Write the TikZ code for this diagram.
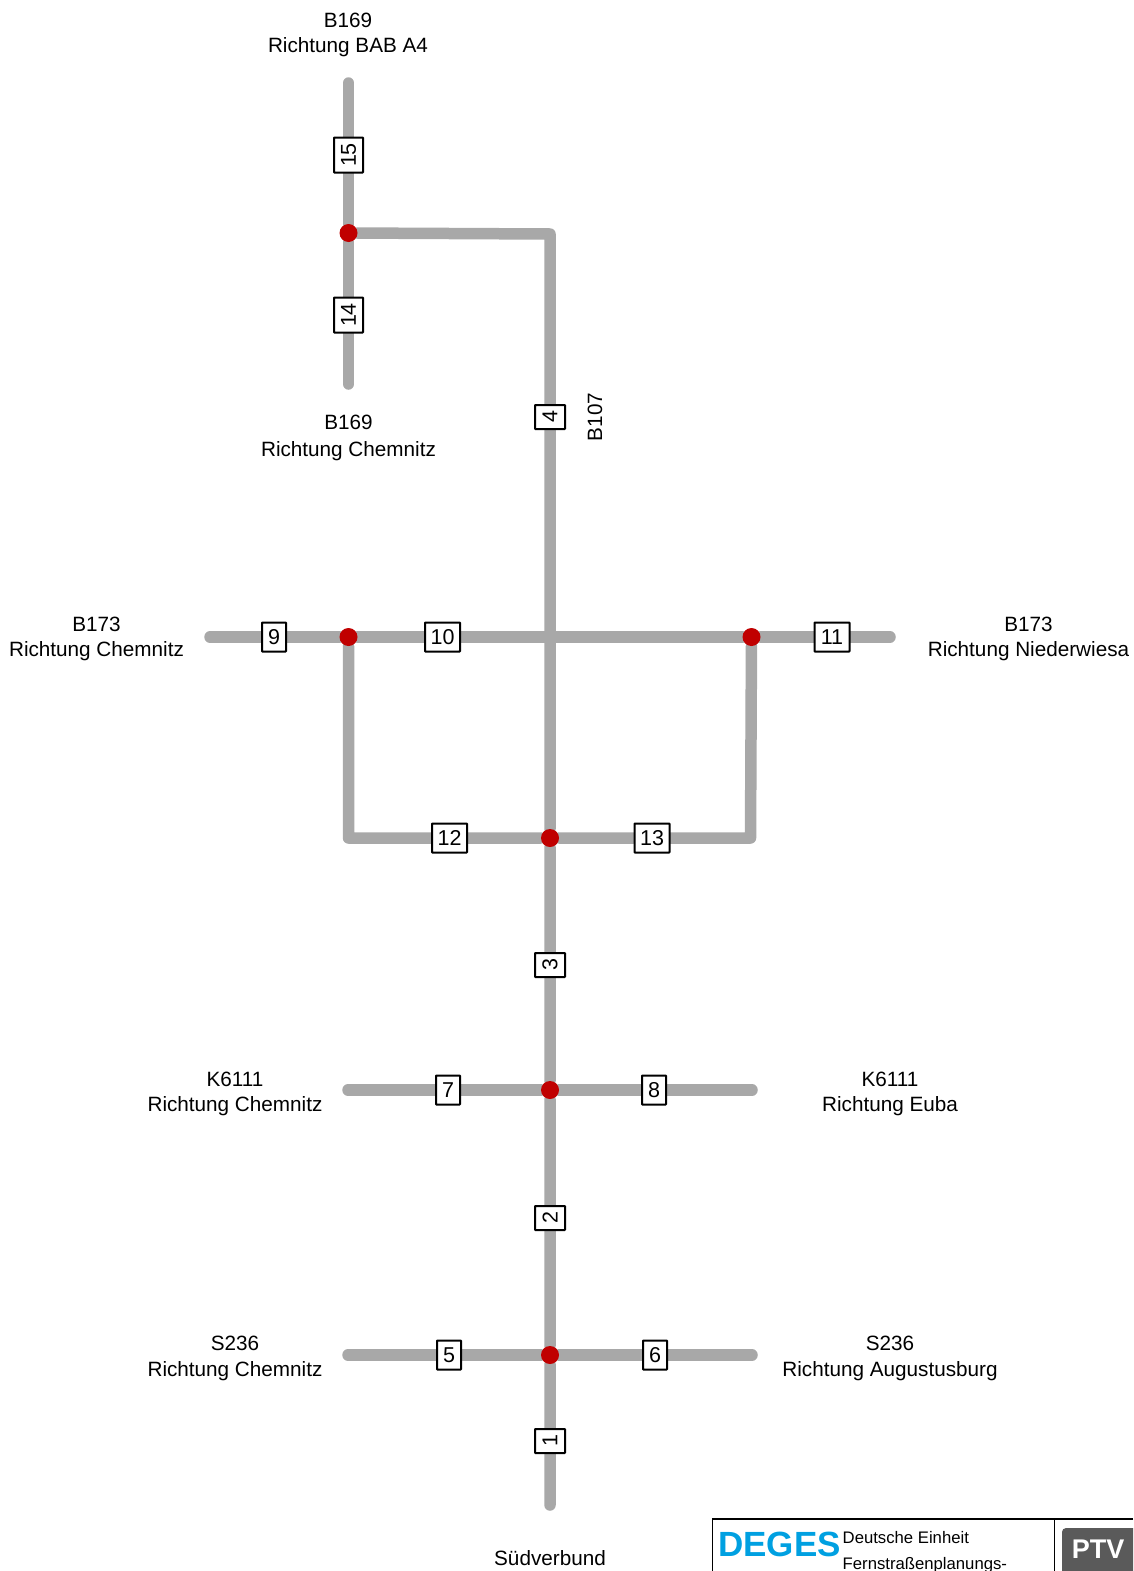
\documentclass[tikz,border=0pt]{standalone}
\usepackage{fontspec}
\setmainfont{Liberation Sans}
\usetikzlibrary{backgrounds}
\definecolor{road}{RGB}{168,168,168}
\definecolor{junc}{RGB}{192,0,0}
\definecolor{degesblue}{RGB}{0,160,225}
\definecolor{ptvgrey}{RGB}{90,90,90}
\tikzset{
 x=1pt,y=-1pt,
 roadline/.style={draw=road,line width=11.5pt,line cap=round,line join=round},
 numbox/.style={draw=black,line width=2pt,fill=white,inner sep=0pt,font=\fontsize{21.5pt}{21.5pt}\selectfont,text=black,rounded corners=0.6pt},
 hbox/.style={numbox,minimum width=#1,minimum height=29pt},
 vbox/.style={numbox,rotate=90,minimum width=#1,minimum height=29pt},
 junction/.style={circle,fill=junc,inner sep=0pt,minimum size=18pt},
 lab/.style={align=center,font=\fontsize{20.7pt}{25.6pt}\selectfont,inner sep=0pt},
 frameline/.style={draw=black,line width=1.2pt},
}
\begin{document}
\begin{tikzpicture}
\useasboundingbox (0,0) rectangle (1133,1571);
\clip (0,0) rectangle (1133,1571);
% junctions
\node[junction] (j15) at (348.5,233) {};
\node[junction] (jw) at (348.5,637) {};
\node[junction] (je) at (751.5,637) {};
\node[junction] (j12) at (550,838) {};
\node[junction] (j7) at (550,1090) {};
\node[junction] (j5) at (550,1355) {};
% free ends and bends
\coordinate (top) at (348.5,83);
\coordinate (bot14) at (348.5,384);
\coordinate (bend) at (550,234);
\coordinate (cross) at (550,637);
\coordinate (south) at (550,1505);
\coordinate (west) at (210,637);
\coordinate (east) at (890,637);
\coordinate (bl) at (348.5,838);
\coordinate (br) at (750.5,838);
\coordinate (w7) at (348,1090);
\coordinate (e8) at (752,1090);
\coordinate (w5) at (348,1355);
\coordinate (e6) at (752,1355);
% number boxes
\node[vbox=35pt] (n15) at (348.5,155) {15};
\node[vbox=35pt] (n14) at (348.5,315) {14};
\node[vbox=24pt,minimum height=30pt] (n4) at (550,417) {4};
\node[hbox=24pt] (n9) at (274,637) {9};
\node[hbox=35pt] (n10) at (442.5,637) {10};
\node[hbox=35pt] (n11) at (832,637) {11};
\node[hbox=35pt] (n12) at (449.5,838) {12};
\node[hbox=35pt] (n13) at (652,838) {13};
\node[vbox=24pt,minimum height=30pt] (n3) at (550,965) {3};
\node[hbox=24pt] (n7) at (448,1090) {7};
\node[hbox=24pt] (n8) at (654,1090) {8};
\node[vbox=24pt,minimum height=30pt] (n2) at (550,1218) {2};
\node[hbox=24pt] (n5) at (449,1355) {5};
\node[hbox=24pt] (n6) at (655,1355) {6};
\node[vbox=24pt,minimum height=30pt] (n1) at (550,1441) {1};
% roads
\begin{scope}[on background layer]
\draw[roadline] (top) -- (n15) -- (j15) -- (n14) -- (bot14);
\draw[roadline] (j15) -- (bend) -- (n4) -- (cross) -- (j12) -- (n3) -- (j7) -- (n2) -- (j5) -- (n1) -- (south);
\draw[roadline] (west) -- (n9) -- (jw) -- (n10) -- (cross) -- (je) -- (n11) -- (east);
\draw[roadline] (jw) -- (bl) -- (n12) -- (j12) -- (n13) -- (br) -- (je);
\draw[roadline] (w7) -- (n7) -- (j7) -- (n8) -- (e8);
\draw[roadline] (w5) -- (n5) -- (j5) -- (n6) -- (e6);
\end{scope}
% labels
\node[lab] (l1) at (348,35) {B169\\Richtung BAB A4};
\node[lab] (l2) at (348.5,437.5) {B169\\[1.5pt]Richtung Chemnitz};
\node[lab,rotate=90] (l3) at (595,417) {B107};
\node[lab] (l4) at (96.5,639) {B173\\Richtung Chemnitz};
\node[lab] (l5) at (1028.5,639) {B173\\Richtung Niederwiesa};
\node[lab] (l6) at (235,1094) {K6111\\Richtung Chemnitz};
\node[lab] (l7) at (890,1094) {K6111\\Richtung Euba};
\node[lab] (l8) at (235,1358.5) {S236\\Richtung Chemnitz};
\node[lab] (l9) at (890,1358.5) {S236\\Richtung Augustusburg};
\node[lab] (l10) at (550,1558) {Südverbund};
% title block
\draw[frameline] (1133,1519) -- (712.5,1519) -- (712.5,1571);
\draw[frameline] (1054.5,1519) -- (1054.5,1571);
\node[inner sep=0pt,text=degesblue,font=\fontsize{35pt}{35pt}\bfseries\selectfont] (deges) at (779.5,1544) {DEGES};
\node[anchor=west,inner sep=0pt,font=\fontsize{16.7pt}{20pt}\selectfont] (t1) at (842.5,1537.5) {Deutsche Einheit};
\node[anchor=west,inner sep=0pt,font=\fontsize{16.7pt}{20pt}\selectfont] (t2) at (842.5,1565) {Fernstraßenplanungs-};
\path[fill=ptvgrey,rounded corners=4pt] (1062,1528) rectangle (1140,1580);
\node[inner sep=0pt,text=white,font=\fontsize{27pt}{27pt}\bfseries\selectfont] (ptv) at (1098,1549) {PTV};
\end{tikzpicture}
\end{document}
